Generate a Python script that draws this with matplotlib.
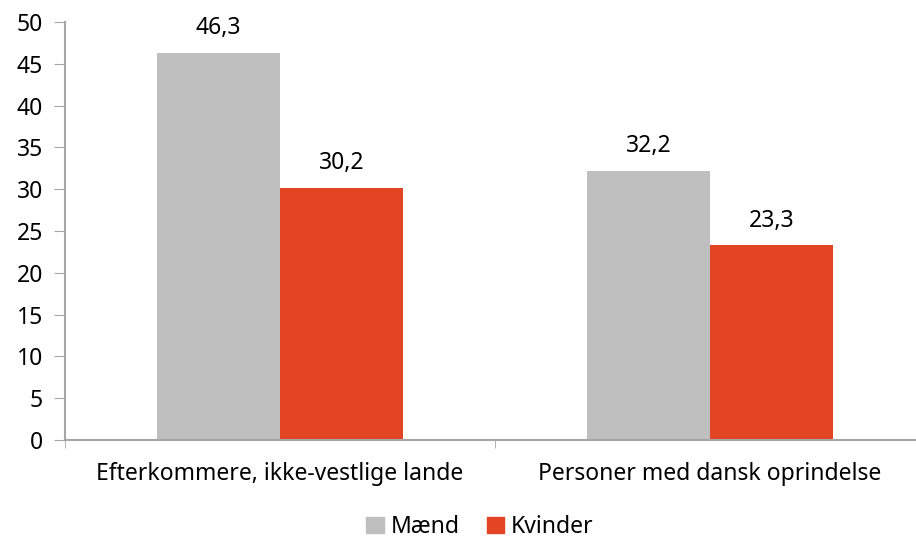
import numpy as np
import matplotlib.pyplot as plt
from matplotlib.patches import Patch

categories = ['Efterkommere, ikke-vestlige lande', 'Personer med dansk oprindelse']
maend = [46.3, 32.2]
kvinder = [30.2, 23.3]
yticks = [0, 5, 10, 15, 20, 25, 30, 35, 40, 45, 50]

plt.rcParams['font.family'] = ['Noto Sans', 'DejaVu Sans']
grey = '#BFBFBF'
red = '#E34424'
axcol = '#A6A6A6'
fs = 16.5

fig = plt.figure(figsize=(9.16, 5.39), dpi=100)
ax = fig.add_axes([65 / 916, 1 - 440 / 539, (925 - 65) / 916, (440 - 22) / 539])

x = np.arange(len(categories))
w = 0.286
b1 = ax.bar(x - w / 2, maend, w, color=grey)
b2 = ax.bar(x + w / 2, kvinder, w, color=red)
for bars, vals in ((b1, maend), (b2, kvinder)):
    for r, v in zip(bars, vals):
        ax.text(r.get_x() + r.get_width() / 2, v + 1.5, f'{v:.1f}'.replace('.', ','),
                ha='center', va='bottom', fontsize=fs)

ax.set_xlim(-0.5, 1.5)
ax.set_ylim(0, 50)
ax.set_yticks(yticks)
ax.set_xticks([-0.5, 0.5, 1.5], minor=True)
ax.set_xticks(x)
ax.set_xticklabels(categories)
ax.tick_params(axis='x', which='major', length=0, pad=16, labelsize=fs)
ax.tick_params(axis='x', which='minor', length=6, color=axcol, direction='out')
ax.tick_params(axis='y', length=8, color=axcol, direction='out', labelsize=fs, pad=8)
for s in ('top', 'right'):
    ax.spines[s].set_visible(False)
for s in ('left', 'bottom'):
    ax.spines[s].set_color(axcol)
    ax.spines[s].set_linewidth(1.5)

handles = [Patch(color=grey, label='Mænd'), Patch(color=red, label='Kvinder')]
fig.legend(handles=handles, loc='center', bbox_to_anchor=(480 / 916, 1 - 527 / 539),
           ncol=2, frameon=False, fontsize=fs, handlelength=0.75, handleheight=0.75,
           handletextpad=0.3, columnspacing=1.2)

fig.savefig('out.png', dpi=100)
